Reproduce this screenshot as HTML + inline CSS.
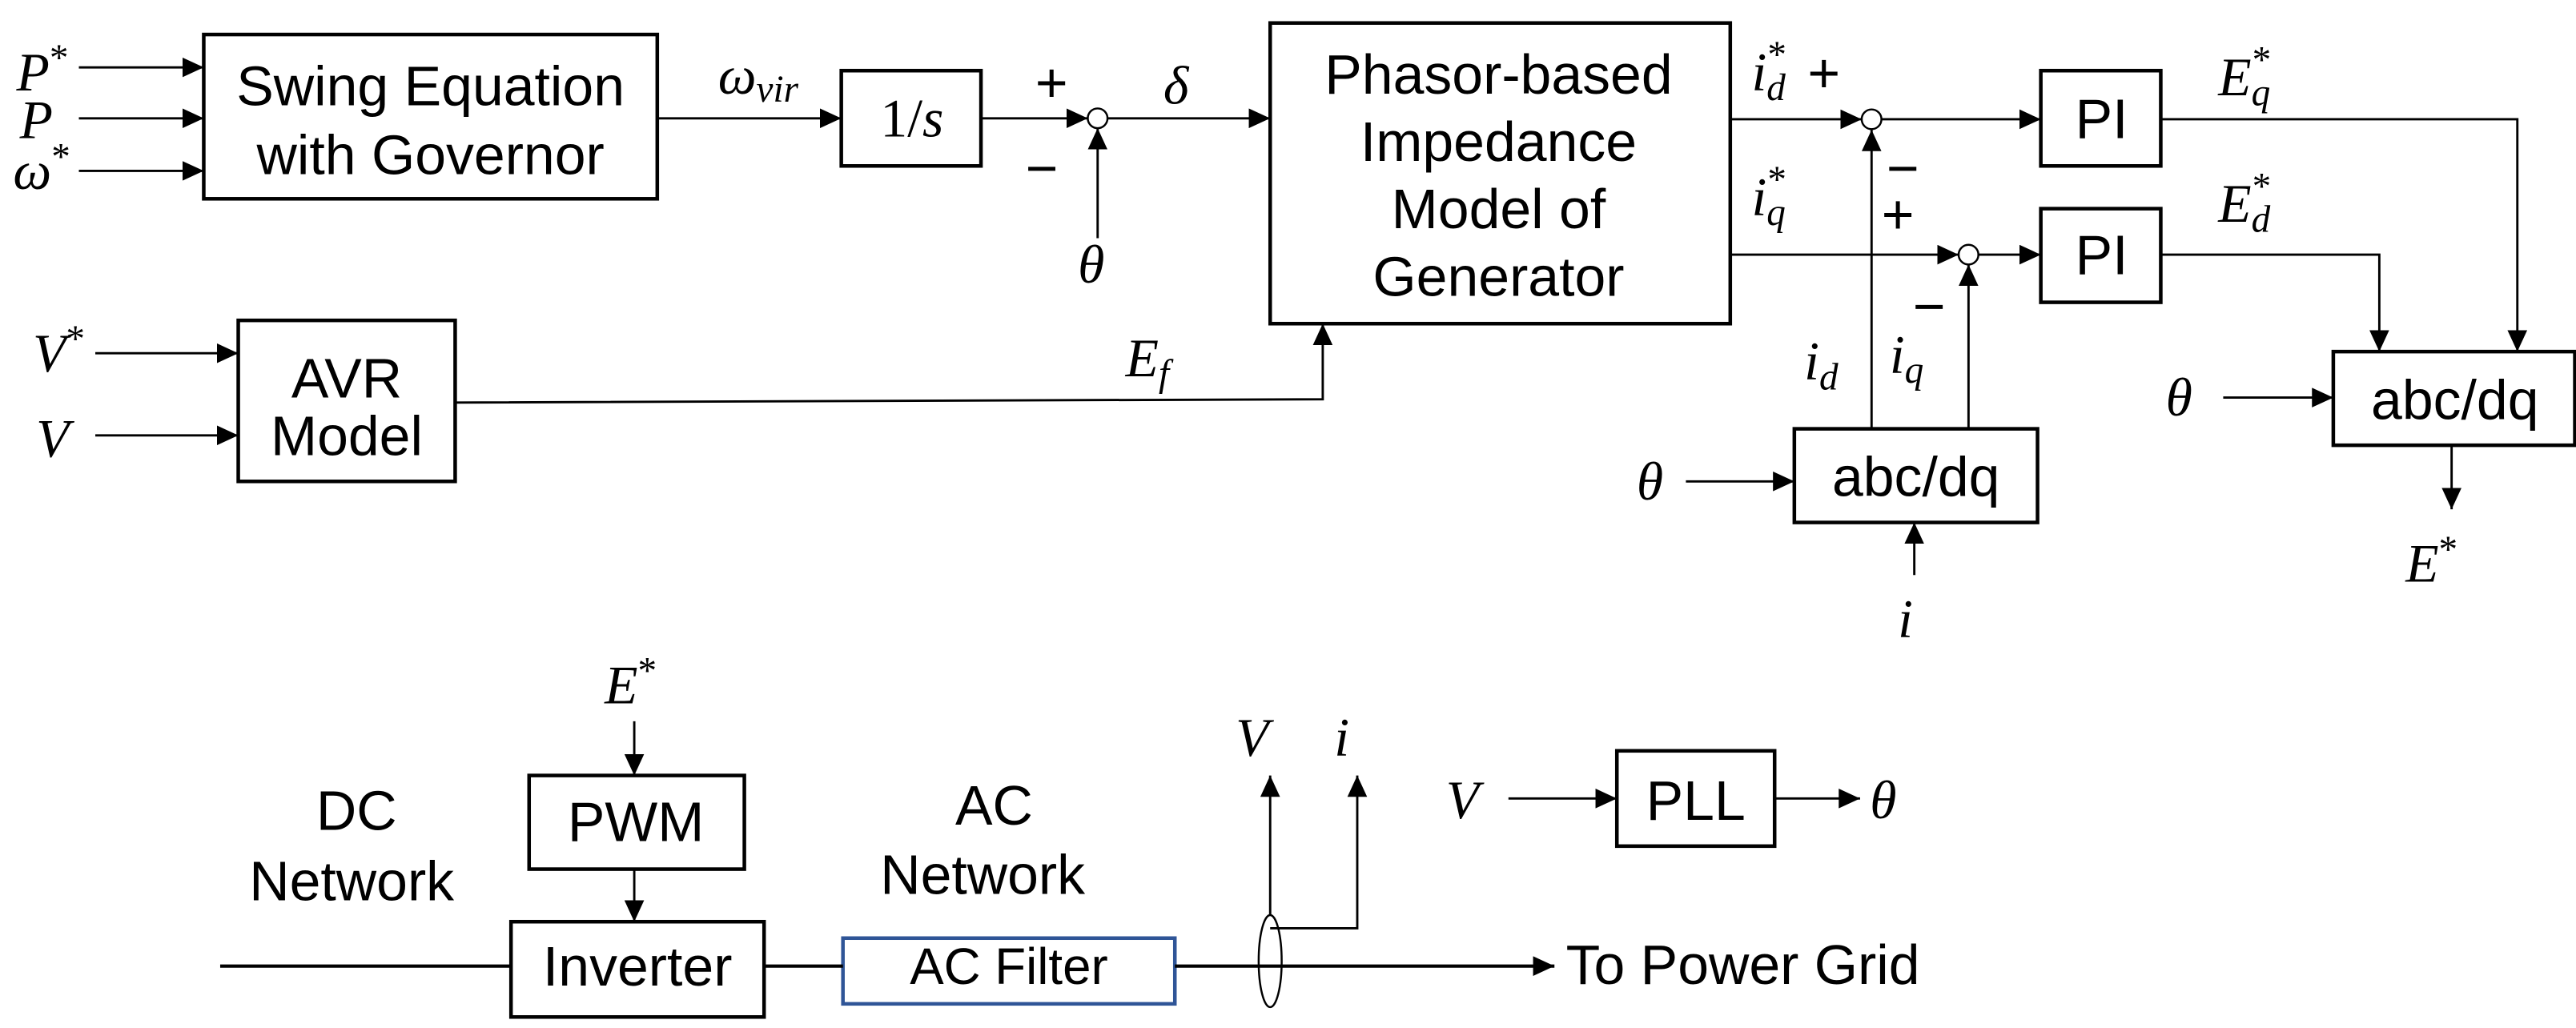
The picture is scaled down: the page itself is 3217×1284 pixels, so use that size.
<!DOCTYPE html>
<html><head><meta charset="utf-8"><style>
html,body{margin:0;padding:0;background:#fff;}
svg{display:block;}
.s{font-family:"Liberation Sans",sans-serif;font-size:34px;fill:#000;}
.m{font-family:"Liberation Serif",serif;font-style:italic;font-size:33px;fill:#000;}
.sub{font-size:23px;}
.sup{font-size:23px;font-style:normal;}
</style></head><body>
<svg width="3217" height="1284" viewBox="0 0 1567.7 625.7" preserveAspectRatio="none" xmlns="http://www.w3.org/2000/svg">
<defs>
<marker id="a" markerUnits="userSpaceOnUse" markerWidth="14" markerHeight="12" refX="13" refY="6" orient="auto">
<path d="M0,0 L13,6 L0,12 z" fill="#000"/></marker>
</defs>
<g fill="none" stroke="#000" stroke-width="2.2">
<rect x="124" y="21" width="276" height="100"/>
<rect x="512" y="43" width="85" height="58"/>
<rect x="773" y="14" width="280" height="183"/>
<rect x="145" y="195" width="132" height="98"/>
<rect x="1242" y="43" width="73" height="58"/>
<rect x="1242" y="127" width="73" height="57"/>
<rect x="1092" y="261" width="148" height="57"/>
<rect x="1420" y="214" width="147" height="57"/>
<rect x="322" y="472" width="131" height="57"/>
<rect x="311" y="561" width="154" height="58"/>
<rect x="984" y="457" width="96" height="58"/>
<rect x="513" y="571" width="202" height="40" stroke="#2F5597"/>
</g>
<g fill="none" stroke="#000" stroke-width="1.4">
<line x1="48" y1="41" x2="124" y2="41" marker-end="url(#a)"/>
<line x1="48" y1="72" x2="124" y2="72" marker-end="url(#a)"/>
<line x1="48" y1="104" x2="124" y2="104" marker-end="url(#a)"/>
<line x1="400" y1="72" x2="512" y2="72" marker-end="url(#a)"/>
<line x1="597" y1="72" x2="662" y2="72" marker-end="url(#a)"/>
<line x1="674" y1="72" x2="773" y2="72" marker-end="url(#a)"/>
<line x1="668" y1="145" x2="668" y2="78" marker-end="url(#a)"/>
<line x1="58" y1="215" x2="145" y2="215" marker-end="url(#a)"/>
<line x1="58" y1="265" x2="145" y2="265" marker-end="url(#a)"/>
<polyline points="277,245 805,243 805,197" marker-end="url(#a)"/>
<line x1="1053" y1="72.6" x2="1133" y2="72.6" marker-end="url(#a)"/>
<line x1="1145" y1="72.6" x2="1242" y2="72.6" marker-end="url(#a)"/>
<line x1="1053" y1="155" x2="1192" y2="155" marker-end="url(#a)"/>
<line x1="1204" y1="155" x2="1242" y2="155" marker-end="url(#a)"/>
<line x1="1139" y1="261" x2="1139" y2="79" marker-end="url(#a)"/>
<line x1="1198" y1="261" x2="1198" y2="161" marker-end="url(#a)"/>
<line x1="1026" y1="293" x2="1092" y2="293" marker-end="url(#a)"/>
<line x1="1165" y1="350" x2="1165" y2="318" marker-end="url(#a)"/>
<polyline points="1315,72.6 1532,72.6 1532,214" marker-end="url(#a)"/>
<polyline points="1315,155 1448,155 1448,214" marker-end="url(#a)"/>
<line x1="1353" y1="242" x2="1420" y2="242" marker-end="url(#a)"/>
<line x1="1492" y1="271" x2="1492" y2="310" marker-end="url(#a)"/>
<line x1="386" y1="439" x2="386" y2="472" marker-end="url(#a)"/>
<line x1="386" y1="529" x2="386" y2="561" marker-end="url(#a)"/>
<line x1="773" y1="557" x2="773" y2="472" marker-end="url(#a)"/>
<polyline points="773,565 826,565 826,472" marker-end="url(#a)"/>
<line x1="918" y1="486" x2="984" y2="486" marker-end="url(#a)"/>
<line x1="1080" y1="486" x2="1132" y2="486" marker-end="url(#a)"/>
</g>
<g fill="none" stroke="#000" stroke-width="2">
<line x1="134" y1="588" x2="311" y2="588"/>
<line x1="465" y1="588" x2="513" y2="588"/>
<line x1="715" y1="588" x2="946" y2="588" marker-end="url(#a)"/>
</g>
<g fill="#fff" stroke="#000" stroke-width="1.2">
<circle cx="668" cy="72" r="6"/>
<circle cx="1139" cy="72.6" r="6"/>
<circle cx="1198" cy="155" r="6"/>
<ellipse cx="773" cy="585" rx="7" ry="28" fill="none"/>
</g>
<g class="s" text-anchor="middle">
<text x="262" y="64">Swing Equation</text>
<text x="262" y="106">with Governor</text>
<text x="912" y="57">Phasor-based</text>
<text x="912" y="98">Impedance</text>
<text x="912" y="139">Model of</text>
<text x="912" y="180">Generator</text>
<text x="211" y="242">AVR</text>
<text x="211" y="277">Model</text>
<text x="1279" y="84">PI</text>
<text x="1279" y="167">PI</text>
<text x="1166" y="302">abc/dq</text>
<text x="1494" y="255">abc/dq</text>
<text x="387" y="512">PWM</text>
<text x="388" y="600">Inverter</text>
<text x="614" y="599" style="font-size:31px">AC Filter</text>
<text x="1032" y="499">PLL</text>
<text x="217" y="505">DC</text>
<text x="214" y="548">Network</text>
<text x="605" y="502">AC</text>
<text x="598" y="544">Network</text>
<text x="953" y="599" text-anchor="start">To Power Grid</text>
<text x="640" y="62">+</text>
<text x="634" y="114">−</text>
<text x="1110" y="56">+</text>
<text x="1158" y="114">−</text>
<text x="1155" y="142">+</text>
<text x="1174" y="198">−</text>
</g>
<text x="555" y="83" class="m" text-anchor="middle"><tspan style="font-style:normal">1/</tspan>s</text>
<g class="m">
<text x="10" y="55">P<tspan class="sup" dy="-12">*</tspan></text>
<text x="12" y="84">P</text>
<text x="8" y="115">ω<tspan class="sup" dy="-12">*</tspan></text>
<text x="437" y="57">ω<tspan class="sub" dy="5">vir</tspan></text>
<text x="708" y="63">δ</text>
<text x="656" y="172">θ</text>
<text x="685" y="229">E<tspan class="sub" dy="6">f</tspan></text>
<text x="20" y="226">V<tspan class="sup" dy="-12">*</tspan></text>
<text x="22" y="278">V</text>
<text x="1066" y="55">i<tspan class="sub" dy="6">d</tspan><tspan class="sup" dx="-11" dy="-20">*</tspan></text>
<text x="1066" y="131">i<tspan class="sub" dy="6">q</tspan><tspan class="sup" dx="-11" dy="-20">*</tspan></text>
<text x="1350" y="58">E<tspan class="sub" dy="6">q</tspan><tspan class="sup" dx="-11" dy="-20">*</tspan></text>
<text x="1350" y="135">E<tspan class="sub" dy="6">d</tspan><tspan class="sup" dx="-11" dy="-20">*</tspan></text>
<text x="1098" y="231">i<tspan class="sub" dy="6">d</tspan></text>
<text x="1150" y="227">i<tspan class="sub" dy="6">q</tspan></text>
<text x="996" y="304">θ</text>
<text x="1155" y="388">i</text>
<text x="1318" y="253">θ</text>
<text x="1464" y="354">E<tspan class="sup" dy="-12">*</tspan></text>
<text x="368" y="428">E<tspan class="sup" dy="-12">*</tspan></text>
<text x="752" y="460">V</text>
<text x="812" y="460">i</text>
<text x="880" y="498">V</text>
<text x="1138" y="498">θ</text>
</g>
</svg>
</body></html>
